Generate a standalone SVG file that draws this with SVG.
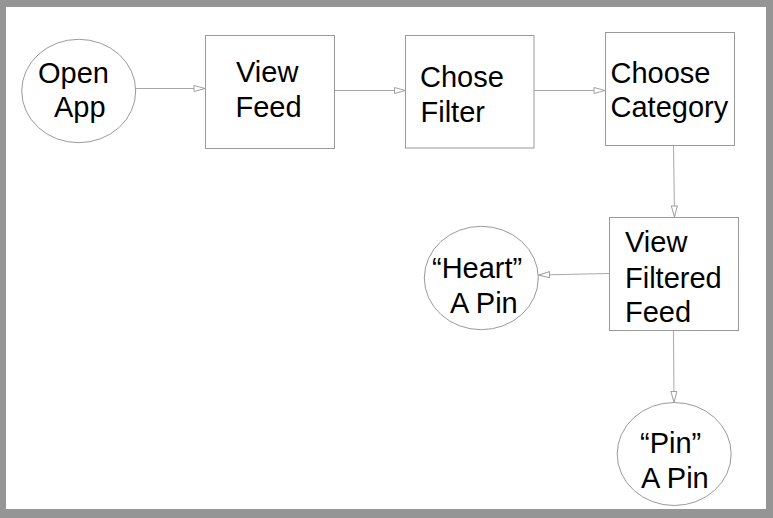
<svg xmlns="http://www.w3.org/2000/svg" width="773" height="518" viewBox="0 0 773 518">
<style>
.shape{fill:#fff;stroke:#9a9a9a;stroke-width:1}
.lbl{font-family:"Liberation Sans",Arial,Helvetica,sans-serif;font-size:29px;fill:#000}
.conn{fill:none;stroke:#a8a8a8;stroke-width:1}
</style>
<defs>
<marker id="arr" markerUnits="userSpaceOnUse" markerWidth="13" markerHeight="8" refX="12" refY="3.5" orient="auto">
<path d="M1,0.5 L12,3.5 L1,6.5 Z" fill="#fff" stroke="#a0a0a0" stroke-width="1"/>
</marker>
</defs>
<rect x="0" y="0" width="773" height="518" fill="#959595"/>
<rect x="6" y="7" width="760" height="502" fill="#fff"/>
<g id="connectors">
<line class="conn" x1="136" y1="88.5" x2="205" y2="88.5" marker-end="url(#arr)"/>
<line class="conn" x1="334" y1="90.5" x2="405.5" y2="90.5" marker-end="url(#arr)"/>
<line class="conn" x1="534" y1="90.5" x2="605" y2="90.5" marker-end="url(#arr)"/>
<line class="conn" x1="673.5" y1="145" x2="674.5" y2="217" marker-end="url(#arr)"/>
<line class="conn" x1="609" y1="273.5" x2="538.5" y2="275" marker-end="url(#arr)"/>
<line class="conn" x1="673.5" y1="330" x2="674" y2="402.5" marker-end="url(#arr)"/>
</g>
<g id="open-app">
<ellipse class="shape" cx="78.7" cy="91" rx="57" ry="51.7"/>
<text class="lbl" x="38" y="83">Open</text>
<text class="lbl" x="54" y="117">App</text>
</g>
<g id="view-feed">
<rect class="shape" x="205.5" y="35.5" width="129" height="113"/>
<text class="lbl" x="236" y="82">View</text>
<text class="lbl" x="235.5" y="117">Feed</text>
</g>
<g id="chose-filter">
<rect class="shape" x="405.5" y="35.5" width="128.5" height="112.5"/>
<text class="lbl" x="420" y="86.5">Chose</text>
<text class="lbl" x="420.5" y="122">Filter</text>
</g>
<g id="choose-category">
<rect class="shape" x="605.5" y="32.5" width="129" height="113"/>
<text class="lbl" x="610.5" y="82.5">Choose</text>
<text class="lbl" x="610.5" y="116.5">Category</text>
</g>
<g id="view-filtered-feed">
<rect class="shape" x="609.5" y="217.5" width="129" height="113"/>
<text class="lbl" x="625" y="252">View</text>
<text class="lbl" x="625" y="287.5">Filtered</text>
<text class="lbl" x="625" y="322">Feed</text>
</g>
<g id="heart-a-pin">
<ellipse class="shape" cx="481.3" cy="278" rx="57" ry="51.7"/>
<text class="lbl" x="432" y="278">“Heart”</text>
<text class="lbl" x="450" y="313">A Pin</text>
</g>
<g id="pin-a-pin">
<ellipse class="shape" cx="674.2" cy="454" rx="57" ry="51.5"/>
<text class="lbl" x="640" y="453">“Pin”</text>
<text class="lbl" x="641" y="488">A Pin</text>
</g>
</svg>
